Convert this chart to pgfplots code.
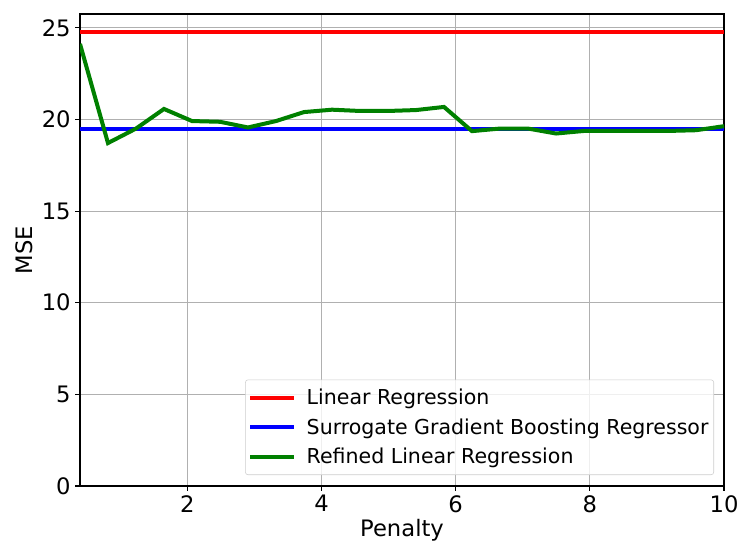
\documentclass[border=0pt]{standalone}
\usepackage{pgfplots}
\pgfplotsset{compat=1.18}
\usepackage{fontspec}
\setmainfont{DejaVu Sans}

\definecolor{mplgreen}{rgb}{0,0.5,0}
\definecolor{gridgray}{rgb}{0.69,0.69,0.69}

\begin{document}
\begin{tikzpicture}
\begin{axis}[
    name=main,
    scale only axis,
    width=483pt,
    height=354pt,
    xmin=0.4, xmax=10,
    ymin=0, ymax=25.75,
    xtick={2,4,6,8,10},
    ytick={0,5,10,15,20,25},
    xlabel={Penalty},
    ylabel={MSE},
    label style={font=\fontsize{17}{20}\selectfont},
    tick label style={font=\fontsize{17}{20}\selectfont},
    /pgf/number format/assume math mode=true,
    grid=major,
    grid style={gridgray, line width=0.6pt},
    axis line style={line width=0.8pt},
    tick style={black, line width=0.8pt},
    tick align=outside,
    major tick length=3.5pt,
    xtick pos=bottom, ytick pos=left,
    xlabel style={yshift=1.5pt},
    legend cell align=left,
    legend style={
        at={(0.9845,0.0233)}, anchor=south east,
        font=\fontsize{15.4}{18}\selectfont,
        draw=black!20, rounded corners=2pt,
        fill=white, fill opacity=0.8, text opacity=1,
        inner xsep=2pt, inner ysep=5pt,
        row sep=4.8pt,
    },
    legend image code/.code={
        \draw[#1, line width=3pt] (0pt,0pt) -- (33pt,0pt);
        \path (39pt,0pt);
    },
]
\addplot[red, line width=3pt] coordinates {(0.4,24.76) (10,24.76)};
\addlegendentry{Linear Regression}
\addplot[blue, line width=3pt] coordinates {(0.4,19.5) (10,19.5)};
\addlegendentry{Surrogate Gradient Boosting Regressor}
\addplot[mplgreen, line width=3pt] coordinates {
    (0.400,24.12) (0.817,18.71) (1.235,19.50) (1.652,20.57)
    (2.070,19.91) (2.487,19.87) (2.904,19.56) (3.322,19.91)
    (3.739,20.40) (4.157,20.53) (4.574,20.46) (4.991,20.46)
    (5.409,20.51) (5.826,20.68) (6.243,19.36) (6.661,19.50)
    (7.078,19.50) (7.496,19.23) (7.913,19.37) (8.330,19.37)
    (8.748,19.37) (9.165,19.37) (9.583,19.41) (10.000,19.63)
};
\addlegendentry{Refined Linear Regression}
\end{axis}
\pgfresetboundingbox
\path ([xshift=-60pt,yshift=-43.5pt]main.south west) rectangle ([xshift=12pt,yshift=10.5pt]main.north east);
\end{tikzpicture}
\end{document}
